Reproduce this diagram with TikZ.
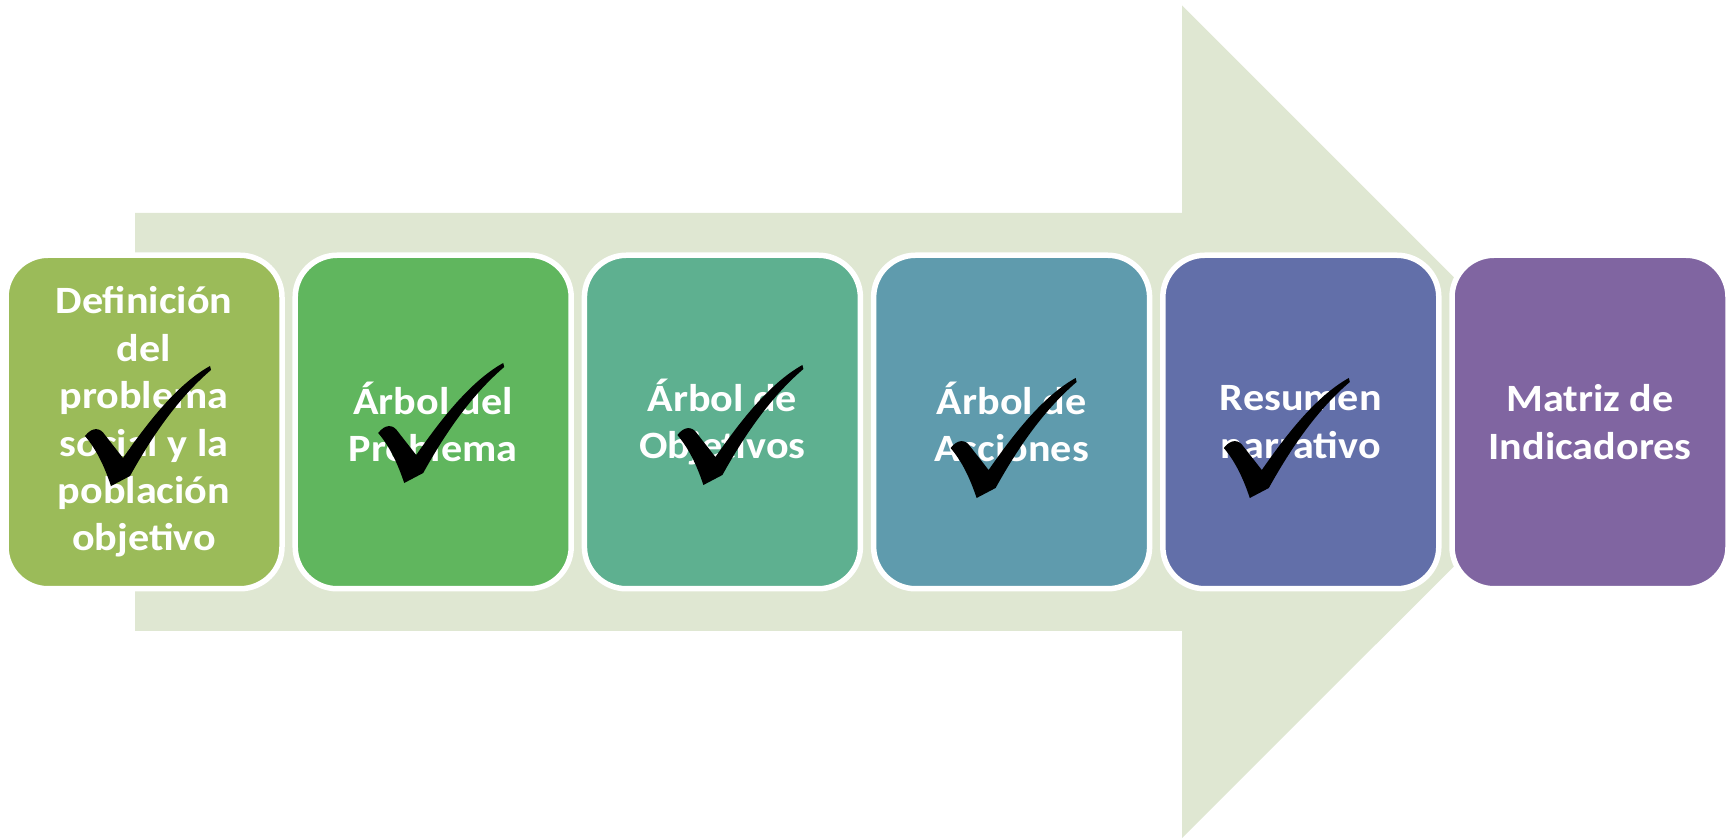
\documentclass[tikz,border=0pt]{standalone}
\usepackage{fontspec}
\setmainfont{Carlito}[FakeStretch=1.09]
\usetikzlibrary{positioning}
\definecolor{arrowbg}{HTML}{DFE7D2}
\definecolor{stepA}{HTML}{9BBB59}
\definecolor{stepB}{HTML}{60B65E}
\definecolor{stepC}{HTML}{5EB090}
\definecolor{stepD}{HTML}{5F9BAD}
\definecolor{stepE}{HTML}{626FA9}
\definecolor{stepF}{HTML}{8065A1}
\tikzstyle{stepbox} = [
    rectangle, rounded corners=0.84cm, minimum width=5.52cm, minimum height=6.67cm,
    draw=white, line width=0.11cm, text=white, align=center,
    font=\bfseries\fontsize{22}{27}\selectfont]
\tikzset{tick/.pic={
    \fill[black, x=0.02cm, y=-0.02cm] (-59,11) .. controls (-52,2) and (-44,2) .. (-39,10)
        -- (-21,33) .. controls (2,0) and (32,-40) .. (66,-59)
        -- (67,-55) .. controls (32,-25) and (6,15) .. (-14,51)
        -- (-33,61) .. controls (-40,40) and (-48,24) .. (-59,11) -- cycle;
}}

\begin{document}
\begin{tikzpicture}[node distance=0.154cm]
\useasboundingbox (0,0) rectangle (34.62,16.78);
% big arrow behind the steps
\fill[arrowbg] (2.70,12.52) -- (23.64,12.52) -- (23.64,16.67) -- (31.97,8.34)
    -- (23.64,0.02) -- (23.64,4.16) -- (2.70,4.16) -- cycle;

\node (def) [stepbox, fill=stepA] at (2.88,8.34) {Definición\\del\\problema\\social y la\\población\\objetivo};
\node (arbprob) [stepbox, fill=stepB, right=of def] {Árbol del\\Problema};
\node (arbobj) [stepbox, fill=stepC, right=of arbprob] {Árbol de\\Objetivos};
\node (arbacc) [stepbox, fill=stepD, right=of arbobj] {Árbol de\\Acciones};
\node (resumen) [stepbox, fill=stepE, right=of arbacc] {Resumen\\narrativo};
\node (matriz) [stepbox, fill=stepF, right=of resumen] {Matriz de\\Indicadores};

% ticks on the finished steps
\pic at ([shift={(0,-0.06)}]def.center) {tick};
\pic at ([shift={(0.08,0)}]arbprob.center) {tick};
\pic at ([shift={(0.28,-0.04)}]arbobj.center) {tick};
\pic at ([shift={(-0.04,-0.30)}]arbacc.center) {tick};
\pic at ([shift={(-0.36,-0.30)}]resumen.center) {tick};
\end{tikzpicture}
\end{document}
